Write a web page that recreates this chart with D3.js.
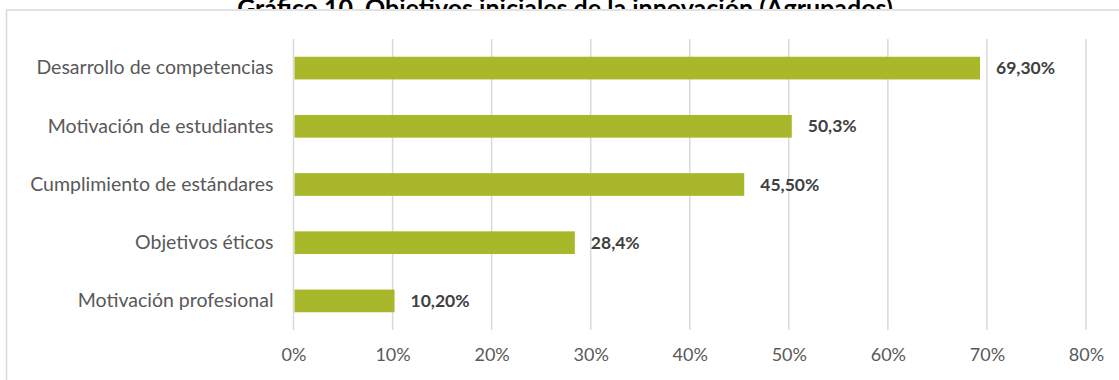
<!DOCTYPE html>
<html>
<head>
<meta charset="utf-8">
<script src="https://cdn.jsdelivr.net/npm/d3@7"></script>
<style>
  html, body { margin: 0; padding: 0; background: #fff; }
  svg { display: block; }
</style>
</head>
<body>
<svg id="chart" width="1119" height="380"></svg>
<script>
// Objetivos iniciales de la innovación (agrupados)
const categories = [
  "Desarrollo de competencias",
  "Motivación de estudiantes",
  "Cumplimiento de estándares",
  "Objetivos éticos",
  "Motivación profesional"
];
const values = [69.3, 50.3, 45.5, 28.4, 10.2];
const valueLabels = ["69,30%", "50,3%", "45,50%", "28,4%", "10,20%"];
const tickValues = [0, 10, 20, 30, 40, 50, 60, 70, 80];
const tickLabels = ["0%", "10%", "20%", "30%", "40%", "50%", "60%", "70%", "80%"];
const title = "Gráfico 10. Objetivos iniciales de la innovación (Agrupados)";

const W = 1119, H = 380;
const plot = { left: 293.5, right: 1086, top: 39, bottom: 330 };
const FONT = "Lato, 'Open Sans', sans-serif";

const svg = d3.select("#chart");

const x = d3.scaleLinear().domain([0, 80]).range([plot.left, plot.right]);
const y = d3.scaleBand().domain(categories).range([plot.top, plot.bottom]).paddingInner(0.61).paddingOuter(0.305);

// Title (only its upper part shows above the chart frame)
svg.append("clipPath").attr("id", "titleClip")
  .append("rect").attr("x", 0).attr("y", 0).attr("width", W).attr("height", 9);
svg.append("text")
  .attr("clip-path", "url(#titleClip)")
  .attr("x", 565).attr("y", 17)
  .attr("text-anchor", "middle")
  .attr("font-family", FONT)
  .attr("font-weight", "bold")
  .attr("font-size", 25)
  .attr("fill", "#000")
  .text(title);

// Chart frame
svg.append("path")
  .attr("d", `M6.5,${H} V10 H${W}`)
  .attr("fill", "none")
  .attr("stroke", "#d9d9d9")
  .attr("stroke-width", 1.5);

// Vertical gridlines
svg.append("g")
  .selectAll("line")
  .data(tickValues)
  .join("line")
  .attr("x1", d => x(d)).attr("x2", d => x(d))
  .attr("y1", plot.top).attr("y2", plot.bottom)
  .attr("stroke", "#d9d9d9")
  .attr("stroke-width", 1.5);

// X axis labels
const xAxis = d3.axisBottom(x)
  .tickValues(tickValues)
  .tickFormat((d, i) => tickLabels[i])
  .tickSize(0)
  .tickPadding(18);
const gx = svg.append("g").attr("transform", `translate(0,${plot.bottom})`).call(xAxis);
gx.select(".domain").remove();
gx.selectAll("text")
  .attr("font-family", FONT)
  .attr("font-size", 18)
  .attr("fill", "#595959");

// Y axis labels
const yAxis = d3.axisLeft(y).tickSize(0).tickPadding(20);
const gy = svg.append("g").attr("transform", `translate(${plot.left},0)`).call(yAxis);
gy.select(".domain").remove();
gy.selectAll("text")
  .attr("font-family", FONT)
  .attr("font-size", 19.5)
  .attr("fill", "#595959");

// Bars
svg.append("g")
  .selectAll("rect")
  .data(values)
  .join("rect")
  .attr("x", x(0) + 1)
  .attr("y", (d, i) => y(categories[i]))
  .attr("width", d => x(d) - x(0) - 1)
  .attr("height", y.bandwidth())
  .attr("fill", "#a8b82a");

// Value labels
svg.append("g")
  .selectAll("text")
  .data(values)
  .join("text")
  .attr("x", d => x(d) + 16)
  .attr("y", (d, i) => y(categories[i]) + y.bandwidth() / 2)
  .attr("dy", "0.35em")
  .attr("font-family", FONT)
  .attr("font-weight", "bold")
  .attr("font-size", 17.5)
  .attr("fill", "#404040")
  .text((d, i) => valueLabels[i]);
</script>
</body>
</html>
